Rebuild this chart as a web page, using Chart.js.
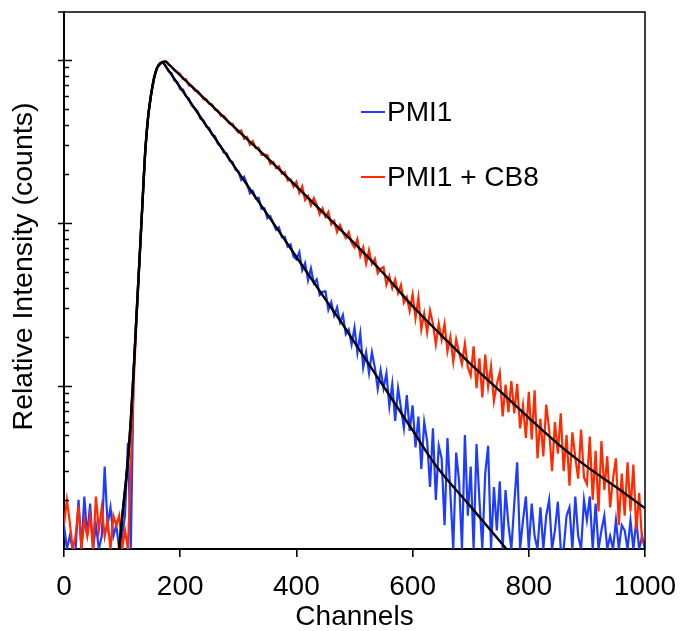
<!DOCTYPE html>
<html>
<head>
<meta charset="utf-8">
<script src="https://cdn.jsdelivr.net/npm/chart.js@4/dist/chart.umd.min.js"></script>
<style>
  html, body { margin: 0; padding: 0; background: #fff; }
  #wrap { width: 680px; height: 631px; }
</style>
</head>
<body>
<div id="wrap"><canvas id="decayChart"></canvas></div>
<script>
const channels = [
  0, 5, 10, 15, 20, 25, 30, 35, 40, 45, 50, 55, 60, 65, 70, 75, 80, 85, 90, 95,
  100, 105, 110, 115, 120, 125, 130, 135, 140, 145, 150, 155, 160, 165, 170, 175, 180, 185, 190, 195,
  200, 205, 210, 215, 220, 225, 230, 235, 240, 245, 250, 255, 260, 265, 270, 275, 280, 285, 290, 295,
  300, 305, 310, 315, 320, 325, 330, 335, 340, 345, 350, 355, 360, 365, 370, 375, 380, 385, 390, 395,
  400, 405, 410, 415, 420, 425, 430, 435, 440, 445, 450, 455, 460, 465, 470, 475, 480, 485, 490, 495,
  500, 505, 510, 515, 520, 525, 530, 535, 540, 545, 550, 555, 560, 565, 570, 575, 580, 585, 590, 595,
  600, 605, 610, 615, 620, 625, 630, 635, 640, 645, 650, 655, 660, 665, 670, 675, 680, 685, 690, 695,
  700, 705, 710, 715, 720, 725, 730, 735, 740, 745, 750, 755, 760, 765, 770, 775, 780, 785, 790, 795,
  800, 805, 810, 815, 820, 825, 830, 835, 840, 845, 850, 855, 860, 865, 870, 875, 880, 885, 890, 895,
  900, 905, 910, 915, 920, 925, 930, 935, 940, 945, 950, 955, 960, 965, 970, 975, 980, 985, 990, 995,
  1000
];

const pmi1Counts = [
  1.4, 1.0, 1.2, 1.0, 1.0, 2.0, 1.0, 2.1, 1.2, 1.9, 1.0, 1.4, 1.0, 1.2, 3.2, 1.4, 1.8, 1.2, 1.4, 1.0,
  1.2, 1.6, 4.5, 1.0, 12.8, 28, 61, 131, 284, 455, 620, 770, 895, 950, 962, 920, 851, 833, 749, 733,
  661, 658, 598, 579, 525, 507, 484, 435, 427, 390, 382, 348, 340, 305, 296, 270, 267, 241, 237, 212,
  208, 184, 192, 173, 152, 157, 141, 143, 122, 123, 107, 110, 100, 91, 94, 81.7, 82.4, 71.6, 73.9, 62.1,
  59.8, 66.2, 51.3, 56.8, 44.5, 52.7, 42.8, 45.1, 36.2, 37.8, 38.1, 29.3, 32.7, 27.1, 30.4, 24.6, 27.3, 20.8, 22.2, 18.0,
  22.8, 16.0, 21.0, 13.0, 16.1, 12.0, 16.1, 13.0, 9.6, 12.5, 9.7, 12.0, 7.5, 10.3, 6.1, 9.7, 7.3, 5.5, 8.8, 5.3,
  7.6, 4.2, 6.5, 3.1, 6.0, 4.6, 2.4, 5.5, 2.0, 4.3, 3.6, 1.4, 4.8, 2.2, 1.0, 3.9, 2.6, 1.0, 5.0, 1.6,
  3.2, 1.0, 4.4, 2.0, 1.0, 2.9, 4.3, 1.0, 2.4, 1.3, 2.6, 1.0, 2.3, 1.4, 1.0, 1.9, 3.4, 1.0, 1.5, 2.1,
  1.0, 1.9, 1.2, 1.0, 1.8, 1.0, 1.6, 2.0, 1.0, 1.3, 1.95, 1.0, 1.0, 1.6, 1.8, 1.0, 2.1, 1.2, 1.0, 2.0,
  1.5, 2.1, 1.0, 1.9, 1.0, 1.3, 1.6, 1.0, 1.2, 1.0, 1.5, 1.0, 1.4, 1.3, 1.0, 1.5, 1.0, 1.5, 1.0, 1.2,
  1.0
];

const pmi1Cb8Counts = [
  1.4, 2.0, 1.45, 1.0, 1.2, 1.85, 1.0, 1.5, 1.2, 1.6, 1.0, 2.1, 1.3, 1.8, 1.2, 1.5, 1.0, 1.6, 1.4, 1.6,
  1.0, 1.3, 1.0, 3.2, 10.5, 26, 59, 130, 280, 452, 612, 774, 888, 942, 975, 985, 940, 912, 866, 842,
  819, 762, 760, 698, 692, 649, 648, 614, 574, 573, 539, 534, 494, 489, 454, 454, 430, 407, 406, 379,
  359, 369, 328, 337, 302, 318, 288, 290, 262, 263, 261, 230, 237, 217, 223, 201, 206, 182, 185, 167,
  179, 153, 168, 138, 146, 128, 142, 129, 113, 123, 109, 117, 98, 103, 88, 97, 88, 81, 88, 75.6,
  70.8, 79.7, 62.8, 70.8, 56.3, 68, 56.1, 60.4, 49.2, 52.3, 53.7, 41.7, 47.3, 39.8, 45.1, 37.1, 41.7, 32.4, 35.1, 28.9,
  36.5, 26.1, 34.9, 22.2, 27.9, 21.3, 29.0, 24.1, 18.0, 24.1, 19.2, 24.1, 16.3, 20.1, 14.1, 19.3, 16.0, 13.6, 18.2, 13.1,
  11.6, 17.5, 9.7, 14.8, 8.5, 15.6, 9.9, 13.2, 8.1, 10.3, 12.1, 6.5, 10.2, 6.9, 10.7, 6.8, 10.3, 5.5, 7.6, 4.8,
  9.2, 4.7, 9.4, 3.6, 6.3, 3.7, 7.7, 5.4, 3.0, 6.0, 3.85, 6.8, 3.0, 5.0, 2.45, 5.2, 3.64, 2.7, 5.4, 2.75,
  2.5, 4.9, 2.0, 4.0, 1.7, 4.6, 2.3, 3.7, 1.8, 2.7, 3.6, 1.4, 2.9, 1.6, 3.4, 1.7, 3.3, 1.3, 2.2, 1.1,
  1.1
];

// fitted curves (black)
const pmi1FitChannels = [95, 100, 105, 110, 115, 120, 125, 130, 135, 140, 145, 150, 155, 160, 165, 170, 175, 180, 190, 200, 250, 300, 350, 400, 450, 480, 500, 550, 600, 640, 700, 770];
const pmi1Fit = [1.0, 1.55, 2.3, 3.5, 6.2, 12.6, 28, 60, 132, 282, 457, 617, 776, 891, 955, 964, 916, 863, 766, 679, 373, 205, 113, 61.9, 34.0, 23.8, 18.5, 9.95, 5.35, 3.25, 1.82, 0.92];

const pmi1Cb8FitChannels = [95, 100, 105, 110, 115, 120, 125, 130, 135, 140, 145, 150, 155, 160, 165, 170, 175, 180, 190, 200, 250, 300, 350, 400, 450, 500, 550, 600, 650, 700, 750, 800, 850, 900, 950, 1000];
const pmi1Cb8Fit = [1.0, 1.55, 2.3, 3.5, 6.2, 12.6, 28, 60, 132, 282, 457, 617, 776, 891, 944, 973, 977, 944, 871, 804, 543, 367, 251, 168, 112, 75.0, 49.0, 30.9, 20.4, 13.6, 9.33, 6.38, 4.42, 3.20, 2.40, 1.78];

const xTicks = [0, 200, 400, 600, 800, 1000];
const yMajorTicks = [1, 10, 100, 1000];
const yMinorSteps = [2, 3, 4, 5, 6, 7, 8, 9];
const yMax = 1970;
const yTitle = 'Relative Intensity (counts)';

const FONT = "'Liberation Sans', Arial, Helvetica, sans-serif";
const BLUE = '#1e3cff';
const RED = '#ff2a00';

function pairs(xs, ys) {
  return xs.map((x, i) => ({ x: x, y: ys[i] }));
}

// frame, log ticks, y title and the in-plot legend
const frameAndLegend = {
  id: 'frameAndLegend',
  afterDraw(chart) {
    const { ctx, chartArea: a, scales: { y } } = chart;
    ctx.save();
    ctx.strokeStyle = '#000';
    ctx.lineWidth = 1.5;
    ctx.beginPath();
    ctx.moveTo(a.left - 6, a.top);
    ctx.lineTo(a.right, a.top);
    ctx.lineTo(a.right, a.bottom);
    ctx.stroke();

    ctx.lineWidth = 1.6;
    ctx.beginPath();
    yMajorTicks.forEach(v => {
      const py = Math.round(y.getPixelForValue(v)) + 0.5;
      if (v > 1) {
        ctx.moveTo(a.left - 6, py);
        ctx.lineTo(a.left + 8, py);
      }
      yMinorSteps.forEach(m => {
        if (v * m > yMax) return;
        const pm = Math.round(y.getPixelForValue(v * m)) + 0.5;
        ctx.moveTo(a.left, pm);
        ctx.lineTo(a.left + 5, pm);
      });
    });
    ctx.stroke();

    // y axis title, a little above the plot centre as in the original
    ctx.save();
    ctx.translate(24, (a.top + a.bottom) / 2 - 14);
    ctx.rotate(-Math.PI / 2);
    ctx.font = '28.5px ' + FONT;
    ctx.textAlign = 'center';
    ctx.textBaseline = 'middle';
    ctx.fillStyle = '#000';
    ctx.fillText(yTitle, 0, 0);
    ctx.restore();

    const entries = [chart.data.datasets[0], chart.data.datasets[1]];
    const rows = [113, 178];
    ctx.font = '28px ' + FONT;
    ctx.textBaseline = 'middle';
    ctx.fillStyle = '#000';
    entries.forEach((ds, i) => {
      ctx.strokeStyle = ds.borderColor;
      ctx.lineWidth = 2;
      ctx.beginPath();
      ctx.moveTo(361, rows[i] - 1);
      ctx.lineTo(385, rows[i] - 1);
      ctx.stroke();
      ctx.fillText(ds.label, 387, rows[i]);
    });
    ctx.restore();
  }
};

new Chart(document.getElementById('decayChart'), {
  type: 'line',
  data: {
    datasets: [
      {
        label: 'PMI1',
        data: pairs(channels, pmi1Counts),
        borderColor: BLUE,
        borderWidth: 2.2,
        pointRadius: 0,
        order: 3
      },
      {
        label: 'PMI1 + CB8',
        data: pairs(channels, pmi1Cb8Counts),
        borderColor: RED,
        borderWidth: 2.2,
        pointRadius: 0,
        order: 2
      },
      {
        label: 'PMI1 fit',
        data: pairs(pmi1FitChannels, pmi1Fit),
        borderColor: '#000',
        borderWidth: 2.4,
        pointRadius: 0,
        cubicInterpolationMode: 'monotone',
        order: 1
      },
      {
        label: 'PMI1 + CB8 fit',
        data: pairs(pmi1Cb8FitChannels, pmi1Cb8Fit),
        borderColor: '#000',
        borderWidth: 2.4,
        pointRadius: 0,
        cubicInterpolationMode: 'monotone',
        order: 0
      }
    ]
  },
  options: {
    responsive: true,
    maintainAspectRatio: false,
    animation: false,
    layout: { padding: { top: 12, right: 35, left: 0, bottom: 0 } },
    plugins: {
      legend: { display: false },
      tooltip: { enabled: false }
    },
    scales: {
      x: {
        type: 'linear',
        min: 0,
        max: 1000,
        afterBuildTicks: s => { s.ticks = xTicks.map(v => ({ value: v })); },
        afterFit: s => { s.height = 82; s.paddingLeft = 0; s.paddingRight = 0; },
        ticks: {
          color: '#000',
          font: { family: FONT, size: 28 },
          padding: 13,
          maxRotation: 0,
          callback: v => String(v)
        },
        grid: { drawOnChartArea: false, drawTicks: true, tickLength: 8, color: '#000', lineWidth: 1.6 },
        border: { color: '#000', width: 2 },
        title: { display: true, text: 'Channels', color: '#000', font: { family: FONT, size: 28, lineHeight: 1 }, padding: 0 }
      },
      y: {
        type: 'logarithmic',
        min: 1,
        max: yMax,
        afterFit: s => { s.width = 64; },
        ticks: { display: false },
        grid: { display: false },
        border: { display: true, color: '#000', width: 2 },
        title: { display: false }
      }
    }
  },
  plugins: [frameAndLegend]
});
</script>
</body>
</html>
